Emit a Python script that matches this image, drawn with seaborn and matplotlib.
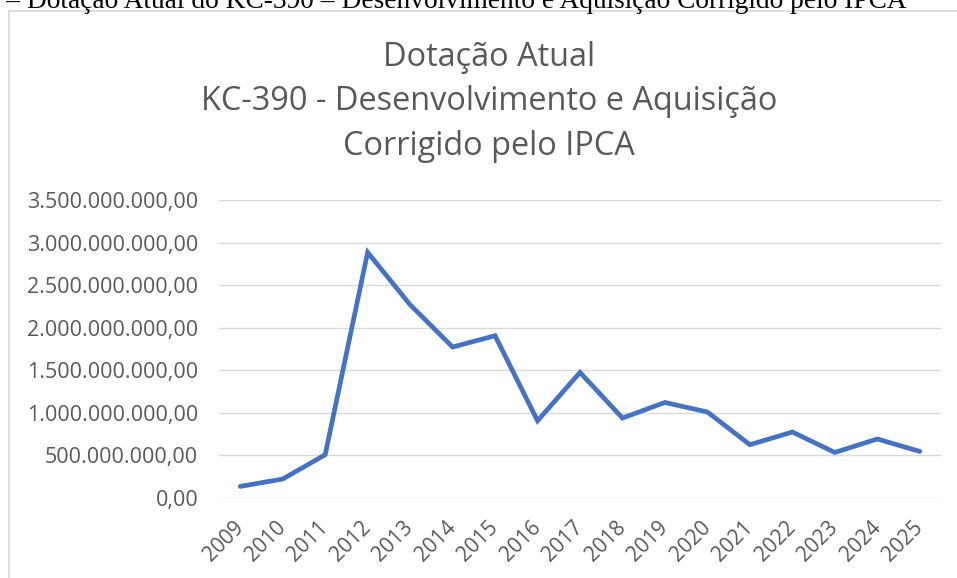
import matplotlib
matplotlib.use("Agg")
import matplotlib.pyplot as plt
import seaborn as sns
import pandas as pd
from matplotlib.patches import Rectangle
from matplotlib.ticker import FuncFormatter

anos = ["2009", "2010", "2011", "2012", "2013", "2014", "2015", "2016", "2017",
        "2018", "2019", "2020", "2021", "2022", "2023", "2024", "2025"]
valores = [136e6, 223e6, 508e6, 2885e6, 2270e6, 1773e6, 1906e6, 907e6, 1475e6,
           939e6, 1122e6, 1010e6, 626e6, 775e6, 535e6, 693e6, 547e6]
y_ticks = [0, 500e6, 1000e6, 1500e6, 2000e6, 2500e6, 3000e6, 3500e6]

titulo = "Dotação Atual\nKC-390 - Desenvolvimento e Aquisição\nCorrigido pelo IPCA"
legenda = "Gráfico 2 – Dotação Atual do KC-390 – Desenvolvimento e Aquisição Corrigido pelo IPCA"

df = pd.DataFrame({"ano": anos, "valor": valores})

sns.set_theme(style="white")
plt.rcParams["font.family"] = ["Open Sans", "DejaVu Sans"]

W, H = 957, 578
fig = plt.figure(figsize=(W / 100, H / 100), dpi=100)
fig.patch.set_facecolor("white")

# chart area border
fig.patches.append(Rectangle((9 / W, -0.05), 1.1, (H - 11) / H + 0.05,
                             transform=fig.transFigure, fill=False,
                             edgecolor="#D9D9D9", linewidth=1.2))

ax = fig.add_axes([219 / W, (H - 498) / H, (941 - 219) / W, (498 - 200) / H])
sns.lineplot(data=df, x="ano", y="valor", ax=ax, color="#4472C4",
             linewidth=3.4, sort=False, solid_capstyle="round",
             solid_joinstyle="miter")

ax.set_xlim(-0.5, len(anos) - 0.5)
ax.set_ylim(0, 3500e6)
ax.set_yticks(y_ticks)
ax.yaxis.set_major_formatter(FuncFormatter(
    lambda v, p: f"{v:,.2f}".replace(",", "X").replace(".", ",").replace("X", ".")))
ax.grid(axis="y", color="#D9D9D9", linewidth=1.0)
ax.set_axisbelow(True)
for s in ax.spines.values():
    s.set_visible(False)
ax.set_xlabel("")
ax.set_ylabel("")
ax.tick_params(axis="both", length=0, colors="#595959", labelsize=15.5)
ax.tick_params(axis="y", pad=15)
ax.set_xticks(range(len(anos)))
ax.set_xticklabels(anos, rotation=45, ha="right", va="center",
                   rotation_mode="anchor", fontsize=15)
ax.tick_params(axis="x", pad=19)

fig.text(489 / W, 1 - 102 / H, titulo, ha="center", va="center",
         fontsize=23.4, color="#595959", linespacing=1.47)

fig.text(907 / W, 1 - 8 / H, legenda, ha="right", va="baseline",
         fontsize=19.7, color="black", family=["Liberation Serif"])

fig.savefig("out.png", dpi=100, facecolor="white")
